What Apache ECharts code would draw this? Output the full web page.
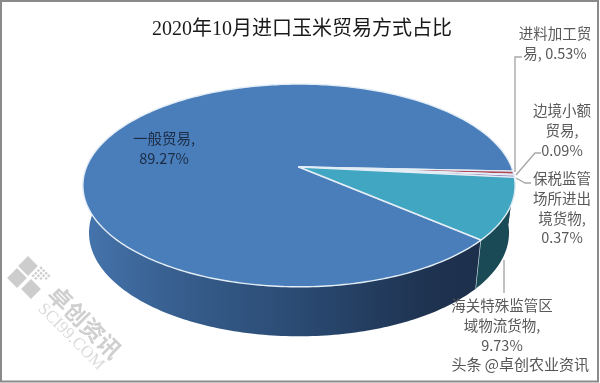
<!DOCTYPE html>
<html>
<head>
<meta charset="utf-8">
<style>html,body{margin:0;padding:0;background:#fff}#c{width:600px;height:383px}</style>
<script src="https://cdn.jsdelivr.net/npm/echarts@6/dist/echarts.min.js"></script>
</head>
<body>
<div id="c"></div>
<script>
// ---- data (clockwise from the 一般贸易 slice) ----
const categories = ['一般贸易', '进料加工贸易', '边境小额贸易', '保税监管场所进出境货物', '海关特殊监管区域物流货物'];
const shares = [89.27, 0.53, 0.09, 0.37, 9.73];
const labelLines = [
  ['一般贸易,', '89.27%'],
  ['进料加工贸', '易, 0.53%'],
  ['边境小额', '贸易,', '0.09%'],
  ['保税监管', '场所进出', '境货物,', '0.37%'],
  ['海关特殊监管区', '域物流货物,', '9.73%']
];
const titleText = '2020年10月进口玉米贸易方式占比';
const creditText = '头条 @卓创农业资讯';
const markName = '卓创资讯';
const markSite = 'SCI99.COM';

// ---- look ----
const topColors = ['#4a7ebb', '#b14a57', '#a9b56a', '#8e78ad', '#40a6c1'];
const wallColors = [null, '#7a3038', '#6a7540', '#57466e', '#1b4a57'];
const labelAt = [[164, 138], [555, 33], [562, 110], [562, 178], [502, 305]];
const labelFill = ['#1c2c44', '#595959', '#595959', '#595959', '#595959'];
const leaders = [
  [[522, 57], [515, 57], [515, 172]],
  [[541, 153], [535, 153], [516, 175]],
  [[531, 183], [525, 183], [516, 178]],
  [[504, 260], [504, 293]]
];
const firstAngle = 41;           // degrees clockwise from 3 o'clock
const topDisc = { cx: 299, cy: 167, rx: 212.5, ry: 98 };
const baseDisc = { cx: 299, cy: 214, rx: 206.5, ry: 100 };
const tilt = 0.182;              // perspective strength
const wallFrom = -15, wallTo = 195;

function project(d, deg) {
  const t = deg * Math.PI / 180, s = Math.sin(t), w = 1 - tilt * s;
  return [d.cx + d.rx * Math.cos(t) / w, d.cy + d.ry * s / w];
}
function arc(d, a, b) {
  const pts = [], n = Math.max(2, Math.ceil(Math.abs(b - a)));
  for (let i = 0; i <= n; i++) pts.push(project(d, a + (b - a) * i / n));
  return pts;
}
const total = shares.reduce((p, v) => p + v, 0);
function sliceRange(i) {
  let sum = 0;
  for (let k = 0; k < i; k++) sum += shares[k];
  const a = firstAngle + sum / total * 360;
  return [a, a + shares[i] / total * 360];
}
const blueWall = {
  type: 'linear', x: 83, y: 0, x2: 480, y2: 0, global: true,
  colorStops: [
    { offset: 0, color: '#4574ad' }, { offset: 0.25, color: '#365d8c' },
    { offset: 0.55, color: '#2a4a72' }, { offset: 0.85, color: '#1f3452' }, { offset: 1, color: '#1c2f4b' }
  ]
};

function renderWall(params, api) {
  const i = params.dataIndex, [a, b] = sliceRange(i), children = [];
  [0, -360].forEach(function (shift) {
    const lo = Math.max(a + shift, wallFrom), hi = Math.min(b + shift, wallTo);
    if (hi <= lo) return;
    const pts = arc(topDisc, lo, hi).concat(arc(baseDisc, lo, hi).reverse());
    children.push({
      type: 'polygon', shape: { points: pts },
      style: { fill: i === 0 ? blueWall : wallColors[i], stroke: null }
    });
  });
  if (Math.sin(a * Math.PI / 180) > 0.3) {
    const p = project(topDisc, a), q = project(baseDisc, a);
    children.push({
      type: 'line', shape: { x1: p[0], y1: p[1], x2: q[0], y2: q[1] },
      style: { stroke: '#cfe3ee', lineWidth: 1.3 }
    });
  }
  return { type: 'group', children: children };
}
function renderTop(params, api) {
  const i = params.dataIndex, [a, b] = sliceRange(i);
  return {
    type: 'polygon',
    shape: { points: [[topDisc.cx, topDisc.cy]].concat(arc(topDisc, a, b)) },
    style: { fill: topColors[i], stroke: '#e3edf6', lineWidth: 1.4, lineJoin: 'round' }
  };
}

const rows = categories.map((n, i) => ({ name: n, value: shares[i] }));
const graphics = [
  { type: 'rect', z: 20, shape: { x: 1, y: 1, width: 597, height: 380.5 },
    style: { fill: 'transparent', stroke: '#8a8a8a', lineWidth: 2 } },
  { type: 'text', z: 20, x: 589, y: 364, style: { text: creditText, fill: '#555555', align: 'right', verticalAlign: 'middle',
    font: '15px "Noto Sans CJK SC", sans-serif' } },
  { type: 'text', z: 5, x: 85, y: 322, rotation: -Math.PI / 4, style: { text: markName, fill: '#cfcfcf', align: 'center', verticalAlign: 'middle',
    font: 'bold 23px "Noto Sans CJK SC", sans-serif' } },
  { type: 'text', z: 5, x: 71, y: 337, rotation: -Math.PI / 4, style: { text: markSite, fill: '#dadada', align: 'center', verticalAlign: 'middle',
    font: '17px "Liberation Serif", serif' } }
];
[[28, 266], [17, 278], [31, 289]].forEach(function (p) {
  graphics.push({ type: 'rect', z: 5, x: p[0], y: p[1], rotation: Math.PI / 4,
    shape: { x: -7, y: -7, width: 14, height: 14 }, style: { fill: '#cdcdcd' } });
});
for (let r = 0; r < 4; r++) for (let c = 0; c < 4; c++) {
  if (r + c > 4) continue;
  graphics.push({ type: 'rect', z: 5, x: 41 + (c - r) * 2.6, y: 268 + (c + r) * 2.6, rotation: Math.PI / 4,
    shape: { x: -1.2, y: -1.2, width: 2.4, height: 2.4 }, style: { fill: '#cfcfcf' } });
}
leaders.forEach(function (pts) {
  graphics.push({ type: 'polyline', z: 8, shape: { points: pts }, style: { stroke: '#a8a8a8', lineWidth: 1.4, fill: null } });
});
labelLines.forEach(function (lines, i) {
  graphics.push({ type: 'text', z: 10, x: labelAt[i][0], y: labelAt[i][1] - 9, style: {
    text: lines.join('\n'), fill: labelFill[i], align: 'center', verticalAlign: 'top', lineHeight: 19.6,
    font: '14.5px "Noto Sans CJK SC", sans-serif' } });
});

const chart = echarts.init(document.getElementById('c'), null, { renderer: 'canvas' });
chart.setOption({
  animation: false,
  backgroundColor: '#ffffff',
  title: {
    text: titleText, left: 297, top: 15, textAlign: 'center',
    textStyle: { fontFamily: '"Liberation Serif","Noto Sans CJK SC",serif', fontSize: 20, fontWeight: 'normal', color: '#1a1a1a' }
  },
  graphic: graphics,
  series: [
    { type: 'custom', name: 'wall', coordinateSystem: 'none', z: 1, renderItem: renderWall, data: rows, silent: true },
    { type: 'custom', name: 'top', coordinateSystem: 'none', z: 2, renderItem: renderTop, data: rows, silent: true }
  ]
});
</script>
</body>
</html>
